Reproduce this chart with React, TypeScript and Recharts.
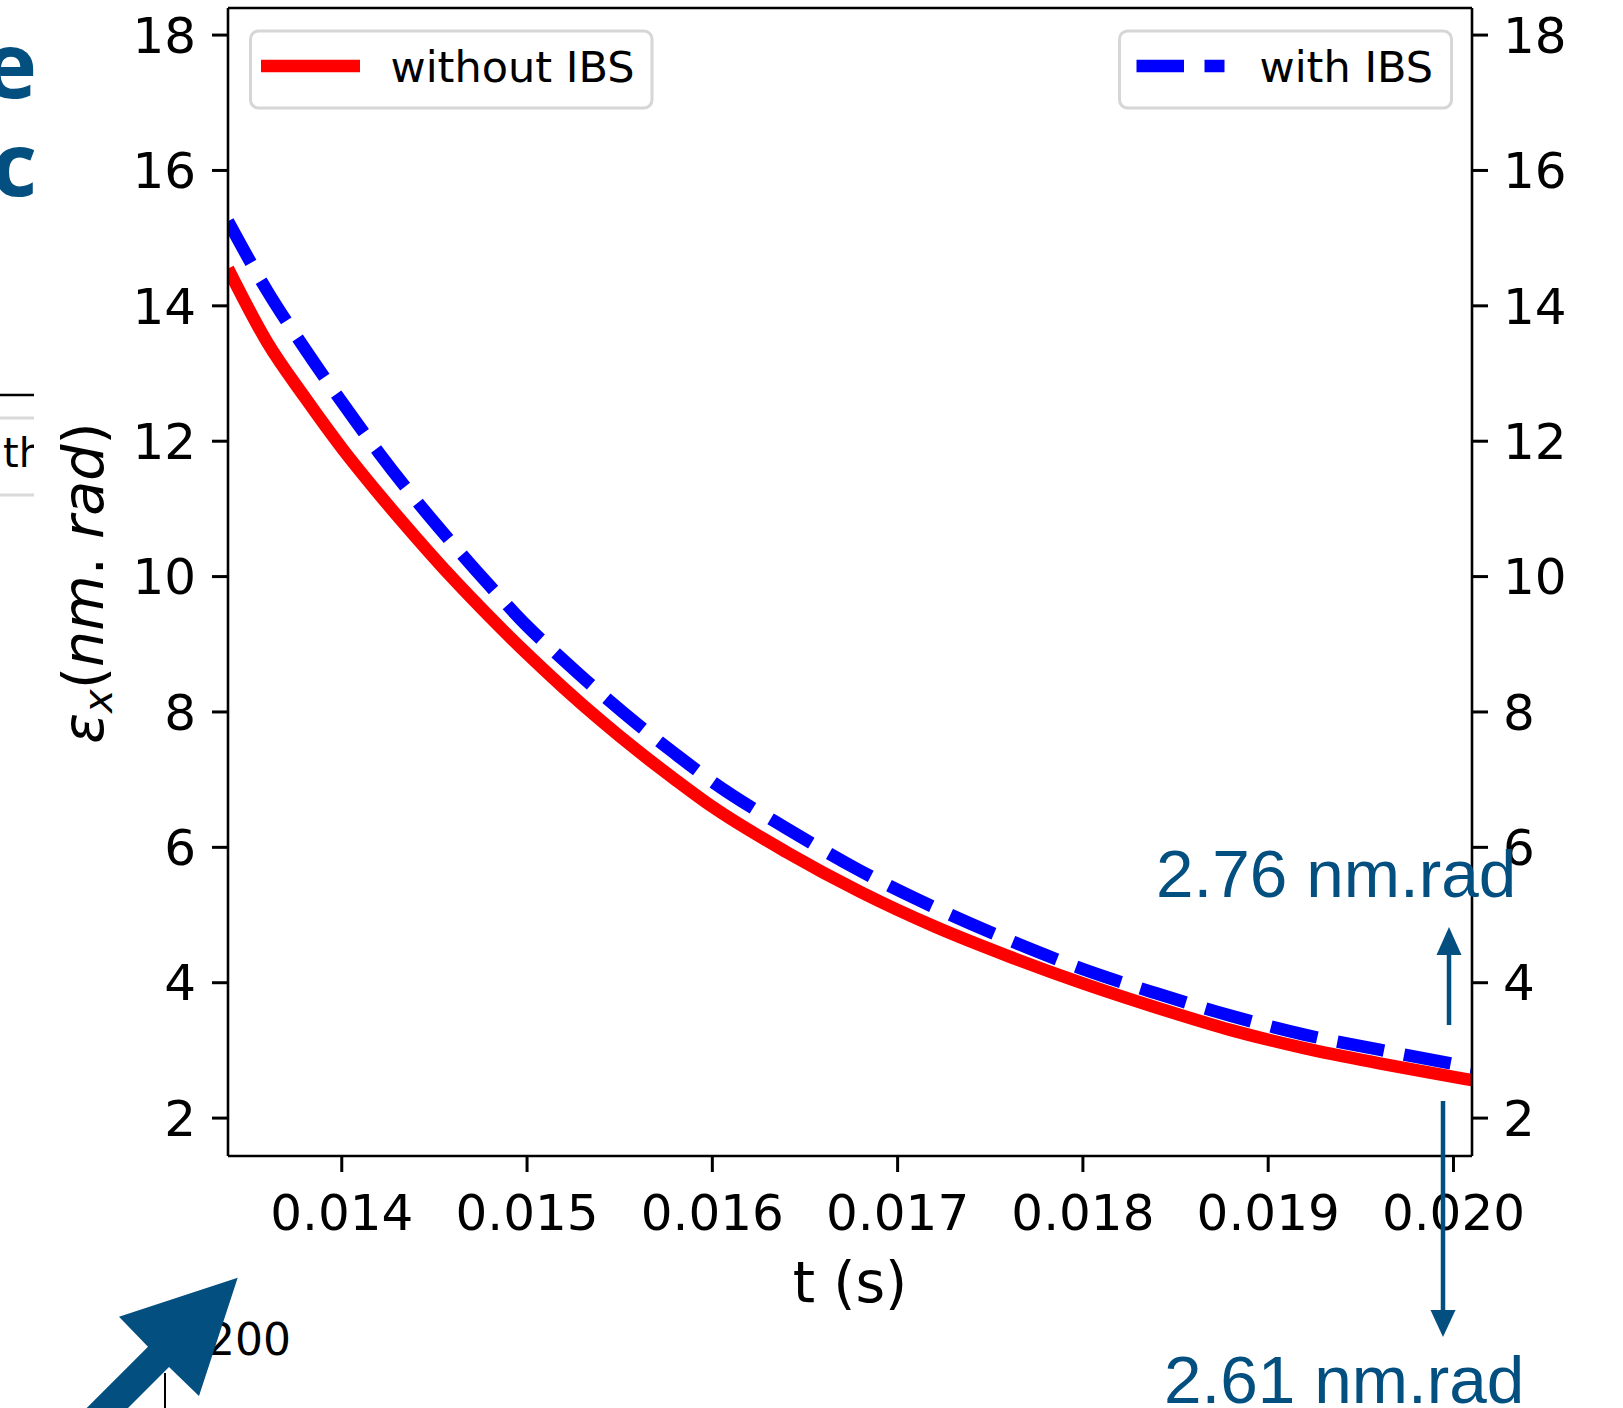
import React from 'react';
import { LineChart, Line, XAxis, YAxis, Legend, ReferenceLine } from 'recharts';

// ---- data ----
const timeS = [
  0.013386, 0.0136, 0.0138, 0.014, 0.0142, 0.0144, 0.0146, 0.0148, 0.015, 0.0152,
  0.0154, 0.0156, 0.0158, 0.016, 0.0164, 0.0168, 0.0172, 0.0176, 0.018, 0.0184,
  0.0188, 0.0192, 0.0196, 0.02, 0.0201,
];
const emitWithoutIBS = [
  14.55, 13.45, 12.65, 11.9, 11.22, 10.58, 9.97, 9.4, 8.86, 8.35,
  7.87, 7.42, 7.0, 6.6, 5.93, 5.34, 4.83, 4.39, 3.99, 3.63,
  3.3, 3.03, 2.81, 2.61, 2.56,
];
const emitWithIBS = [
  15.25, 14.21, 13.37, 12.58, 11.83, 11.13, 10.48, 9.86, 9.27, 8.76,
  8.27, 7.81, 7.38, 6.97, 6.28, 5.65, 5.11, 4.63, 4.2, 3.84,
  3.51, 3.23, 3.01, 2.8, 2.75,
];
const seriesNames = ['without IBS', 'with IBS'];
const xTicks = [0.014, 0.015, 0.016, 0.017, 0.018, 0.019, 0.02];
const yTicks = [2, 4, 6, 8, 10, 12, 14, 16, 18];
const xDomain = [0.013386, 0.0201];
const yDomain = [1.44, 18.4];
const annotationTexts = ['2.76 nm.rad', '2.61 nm.rad'];

const data = timeS.map((t, i) => ({ t, without: emitWithoutIBS[i], withIbs: emitWithIBS[i] }));

// ---- styles ----
const W = 1623;
const H = 1408;
const FONT = 'DejaVu Sans';
const ANN = '#024f80';
const tickStyle = { fontSize: 50, fill: '#000', fontFamily: FONT };

const legendBoxes: Record<string, { x: number; w: number; lineX1: number; lineX2: number; textX: number }> = {
  'without IBS': { x: 250.5, w: 401.5, lineX1: 261, lineX2: 360, textX: 390.5 },
  'with IBS': { x: 1119.5, w: 332, lineX1: 1136.5, lineX2: 1224.5, textX: 1259.5 },
};

const LegendContent = (props: any) => {
  const items = props.payload || [];
  return (
    <svg width={W} height={H} style={{ position: 'absolute', left: 0, top: 0, overflow: 'visible' }}>
      {items.map((it: any) => {
        const b = legendBoxes[it.value];
        if (!b) return null;
        const dash = it.payload && it.payload.strokeDasharray;
        return (
          <g key={it.value}>
            <rect x={b.x} y={31} width={b.w} height={77} rx={8} ry={8} fill="#fff" stroke="#d6d6d6" strokeWidth={3} />
            <line x1={b.lineX1} x2={b.lineX2} y1={66} y2={66} stroke={it.color} strokeWidth={12.5} strokeDasharray={dash} />
            <text x={b.textX} y={81.7} fontFamily={FONT} fontSize={43} fill="#000">{it.value}</text>
          </g>
        );
      })}
    </svg>
  );
};

const YLabel = (props: any) => {
  const vb = props.viewBox || { x: 0, y: 8, width: 228, height: 1148 };
  const cx = 103;
  const cy = vb.y + vb.height / 2 + 1;
  return (
    <text transform={`rotate(-90 ${cx} ${cy})`} x={cx} y={cy} textAnchor="middle" fontFamily={FONT} fontSize={57} fill="#000">
      <tspan fontStyle="italic">ε</tspan>
      <tspan fontStyle="italic" fontSize={40} dy={9}>x</tspan>
      <tspan dy={-9}>(</tspan>
      <tspan fontStyle="italic">nm</tspan>
      <tspan>. </tspan>
      <tspan fontStyle="italic">rad</tspan>
      <tspan>)</tspan>
    </text>
  );
};

const XLabel = (props: any) => {
  const vb = props.viewBox || { x: 228, y: 1156, width: 1244, height: 252 };
  return (
    <text x={vb.x + vb.width / 2} y={1302} textAnchor="middle" fontFamily={FONT} fontSize={57} fill="#000">
      t (s)
    </text>
  );
};

const Overlay = () => (
  <svg width={W} height={H} style={{ position: 'absolute', left: 0, top: 0, pointerEvents: 'none' }}>
    <defs>
      <clipPath id="leftcut">
        <rect x={0} y={0} width={34} height={H} />
      </clipPath>
    </defs>
    {/* leftover slide fragments on the left */}
    <g clipPath="url(#leftcut)">
      <text x={37} y={98} textAnchor="end" fontFamily="Open Sans" fontWeight={700} fontSize={92} fill={ANN}>pe</text>
      <text x={37} y={196} textAnchor="end" fontFamily="Open Sans" fontWeight={700} fontSize={88} fill={ANN}>ic</text>
      <line x1={0} x2={34} y1={395} y2={395} stroke="#000" strokeWidth={2.5} />
      <line x1={0} x2={34} y1={418} y2={418} stroke="#d9d9d9" strokeWidth={3} />
      <line x1={0} x2={34} y1={495} y2={495} stroke="#d9d9d9" strokeWidth={3} />
      <text x={3} y={467} fontFamily={FONT} fontSize={40} fill="#000">th</text>
    </g>
    {/* bottom-left fragments */}
    <line x1={165} x2={165} y1={1373} y2={H} stroke="#000" strokeWidth={2} />
    <text x={207} y={1355} fontFamily={FONT} fontSize={44} fill="#000">200</text>
    <polygon
      points="237.7,1277.7 119,1316.7 148,1346.7 58,1436.7 99,1437 169,1367 199,1396"
      fill={ANN}
    />
    {/* annotations */}
    <text x={1156} y={897} fontFamily="Liberation Sans" fontSize={67.5} fill={ANN}>{annotationTexts[0]}</text>
    <line x1={1449} x2={1449} y1={1025} y2={950} stroke={ANN} strokeWidth={4.5} />
    <polygon points="1449,927 1436.5,955 1461.5,955" fill={ANN} />
    <line x1={1443} x2={1443} y1={1101} y2={1315} stroke={ANN} strokeWidth={4.5} />
    <polygon points="1443,1337 1430.5,1310 1455.5,1310" fill={ANN} />
    <text x={1164} y={1403} fontFamily="Liberation Sans" fontSize={67.5} fill={ANN}>{annotationTexts[1]}</text>
  </svg>
);

export default function App() {
  return (
    <div style={{ position: 'absolute', left: 0, top: 0, width: W, height: H, background: '#fff', overflow: 'hidden' }}>
      <LineChart width={W} height={H} data={data} margin={{ top: 8, right: 0, bottom: 0, left: 0 }}>
        <XAxis
          dataKey="t"
          type="number"
          domain={xDomain}
          allowDataOverflow
          ticks={xTicks}
          tickFormatter={(v: number) => v.toFixed(3)}
          height={252}
          tick={tickStyle}
          tickSize={16}
          tickMargin={22}
          tickLine={{ stroke: '#000', strokeWidth: 3 }}
          axisLine={{ stroke: '#000', strokeWidth: 2.6 }}
          label={<XLabel />}
        />
        <YAxis
          yAxisId="left"
          type="number"
          domain={yDomain}
          allowDataOverflow
          ticks={yTicks}
          width={228}
          tick={tickStyle}
          tickSize={16}
          tickMargin={16}
          tickLine={{ stroke: '#000', strokeWidth: 3 }}
          axisLine={{ stroke: '#000', strokeWidth: 2.6 }}
          label={<YLabel />}
        />
        <YAxis
          yAxisId="right"
          orientation="right"
          type="number"
          domain={yDomain}
          allowDataOverflow
          ticks={yTicks}
          width={151}
          tick={tickStyle}
          tickSize={16}
          tickMargin={15}
          tickLine={{ stroke: '#000', strokeWidth: 3 }}
          axisLine={{ stroke: '#000', strokeWidth: 2.6 }}
        />
        <ReferenceLine yAxisId="left" y={yDomain[1]} stroke="#000" strokeWidth={2.6} />
        <Line
          yAxisId="left"
          dataKey="without"
          name={seriesNames[0]}
          type="monotone"
          stroke="#ff0000"
          strokeWidth={12.5}
          dot={false}
          activeDot={false}
          isAnimationActive={false}
        />
        <Line
          yAxisId="left"
          dataKey="withIbs"
          name={seriesNames[1]}
          type="monotone"
          stroke="#0000ff"
          strokeWidth={12.5}
          strokeDasharray="47.5 20.5"
          dot={false}
          activeDot={false}
          isAnimationActive={false}
        />
        <Legend
          layout="horizontal"
          verticalAlign="middle"
          align="center"
          content={<LegendContent />}
          wrapperStyle={{ left: 0, top: 0, width: W, height: H, pointerEvents: 'none' }}
        />
      </LineChart>
      <Overlay />
    </div>
  );
}
